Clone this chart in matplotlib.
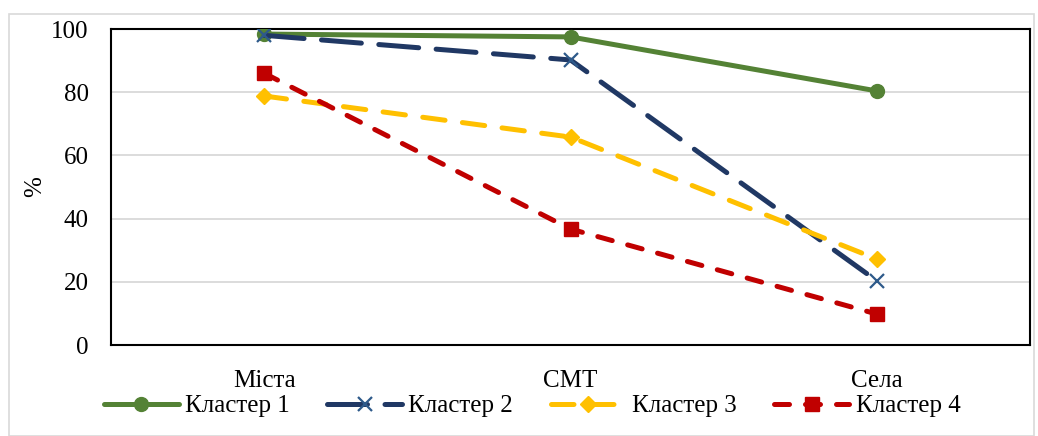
import matplotlib
matplotlib.use("Agg")
import matplotlib.pyplot as plt
from matplotlib.patches import Rectangle

categories = ["Міста", "СМТ", "Села"]
series_names = ["Кластер 1", "Кластер 2", "Кластер 3", "Кластер 4"]
cluster1 = [98.4, 97.5, 80.4]
cluster2 = [98.0, 90.2, 20.3]
cluster3 = [78.8, 65.8, 27.2]
cluster4 = [86.0, 36.7, 9.8]
yticks = [0, 20, 40, 60, 80, 100]

plt.rcParams['font.family'] = ['Liberation Serif', 'DejaVu Serif']

fig = plt.figure(figsize=(10.38, 4.36), dpi=100)
ax = fig.add_axes([111/1038, 1-345/436, (1030-111)/1038, (345-29)/436])

x = list(range(len(categories)))
lw = 3.6
ax.plot(x, cluster1, color="#548235", lw=lw, marker="o", ms=10, label=series_names[0],
        solid_capstyle="round", zorder=3)
ax.plot(x, cluster2, color="#203864", lw=lw, marker="x", ms=10, mew=1.6, mec="#2E5A8A",
        dashes=(8, 3.5), dash_capstyle="round", label=series_names[1], zorder=3)
ax.plot(x, cluster3, color="#FFC000", lw=lw, marker="D", ms=8, dashes=(4.5, 3.5),
        dash_capstyle="round", label=series_names[2], zorder=3)
ax.plot(x, cluster4, color="#C00000", lw=lw, marker="s", ms=10, dashes=(3, 3.2),
        dash_capstyle="round", label=series_names[3], zorder=3)

ax.set_xlim(-0.5, 2.5)
ax.set_ylim(0, 100)
ax.set_yticks(yticks)
ax.set_xticks(x)
ax.set_xticklabels(categories)
ax.tick_params(axis="both", length=0, labelsize=18, colors="black")
ax.tick_params(axis="y", pad=16)
ax.tick_params(axis="x", pad=18)
ax.grid(axis="y", color="#D9D9D9", lw=1.3, zorder=0)
for s in ax.spines.values():
    s.set_color("black")
    s.set_linewidth(1.5)
ax.set_ylabel("%", fontsize=18, labelpad=4)

leg = fig.legend(handles=ax.get_lines(), labels=series_names, loc="center",
                 bbox_to_anchor=(532/1038, 1-406/436), ncol=4, frameon=False,
                 fontsize=18, handlelength=3.0, columnspacing=1.5, handletextpad=0.25)

fig.patches.append(Rectangle((9/1038, 0), (1034-9)/1038, 1-14/436, transform=fig.transFigure,
                             fill=False, edgecolor="#D9D9D9", lw=1.2))

fig.savefig("out.png", dpi=100)
